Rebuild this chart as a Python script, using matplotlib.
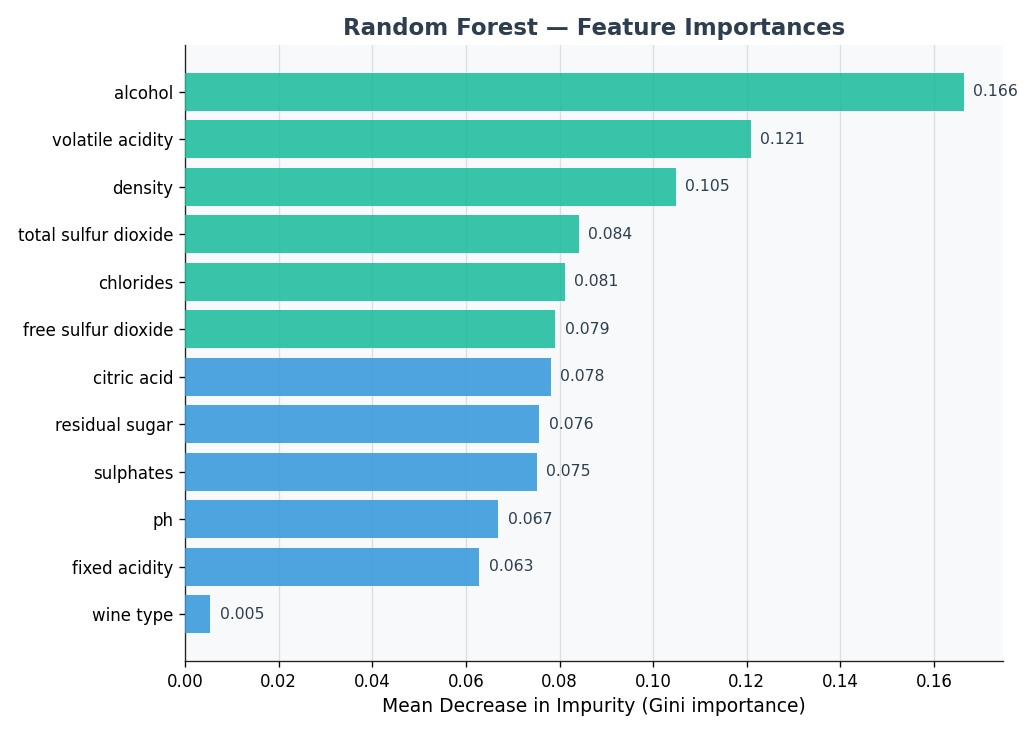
import matplotlib.pyplot as plt

# Feature importances (sorted, top first)
features = ["alcohol", "volatile acidity", "density", "total sulfur dioxide",
            "chlorides", "free sulfur dioxide", "citric acid", "residual sugar",
            "sulphates", "ph", "fixed acidity", "wine type"]
importances = [0.1664, 0.1209, 0.1048, 0.0841, 0.0812, 0.0791,
               0.0782, 0.0757, 0.0752, 0.0669, 0.0629, 0.0054]
top_n = 6

colors = ["#1abc9c" if i < top_n else "#3498db" for i in range(len(features))]

fig, ax = plt.subplots(figsize=(1033 / 120, 737 / 120), dpi=120)
ax.set_facecolor("#f8f9fa")

ypos = list(range(len(features)))
ax.barh(ypos, importances, height=0.8, color=colors, alpha=0.87, zorder=3)
ax.set_yticks(ypos)
ax.set_yticklabels(features)
ax.invert_yaxis()
ax.tick_params(labelsize=10)

for y, v in zip(ypos, importances):
    ax.text(v + 0.002, y, f"{v:.3f}", va="center", ha="left",
            fontsize=9.4, color="#2c3e50", zorder=4)

ax.set_xlim(0, max(importances) * 1.05)
ax.set_xlabel("Mean Decrease in Impurity (Gini importance)", fontsize=11.25)
ax.set_title("Random Forest — Feature Importances", fontsize=13.7,
             fontweight="bold", color="#2c3e50")
ax.grid(axis="x", color="#d5d8dc", linewidth=0.8, alpha=0.8, zorder=0)
ax.spines["top"].set_visible(False)
ax.spines["right"].set_visible(False)
for s in ["left", "bottom"]:
    ax.spines[s].set_color("#222222")

plt.subplots_adjust(left=0.179, right=0.971, top=0.939, bottom=0.103)
plt.savefig("out.png", dpi=120)
